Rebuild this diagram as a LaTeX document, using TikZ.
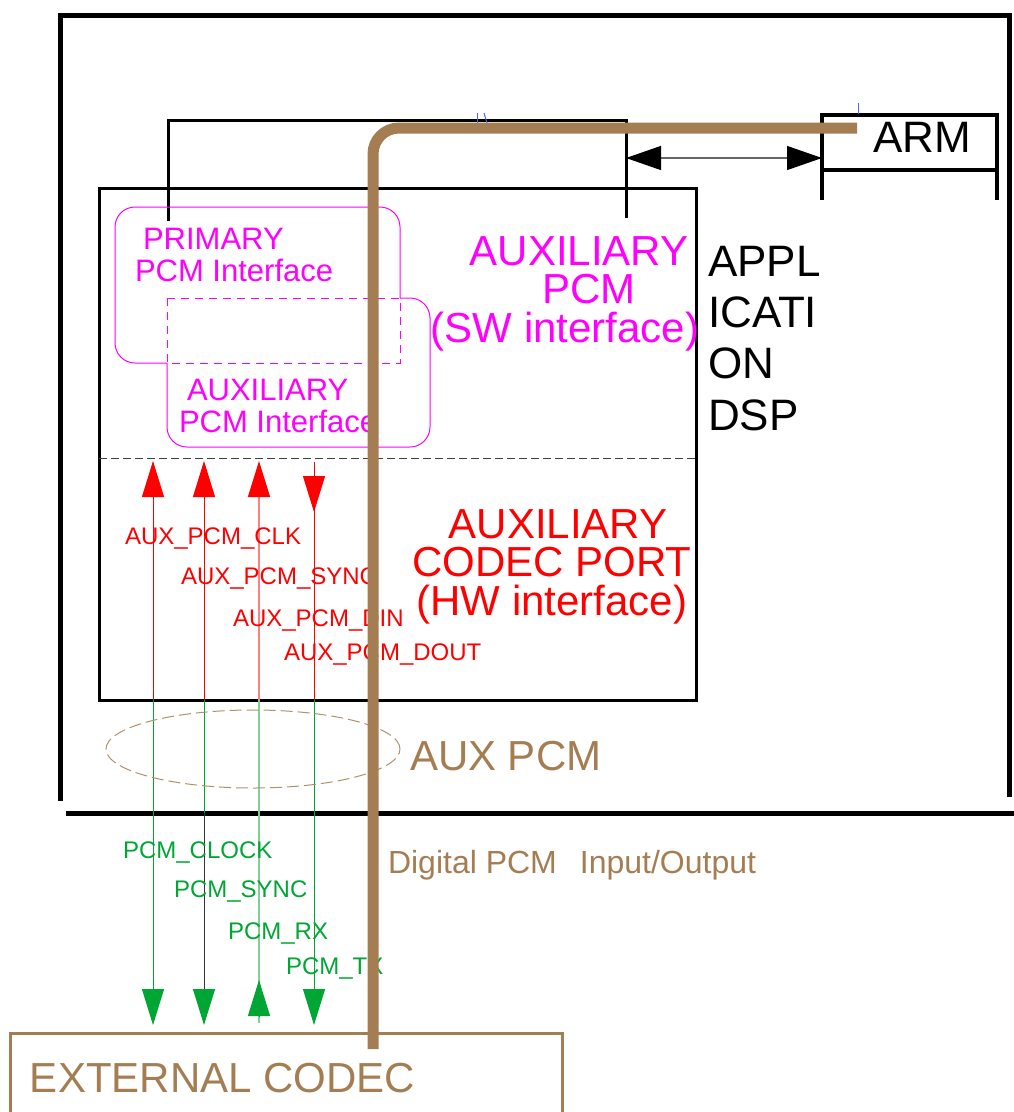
\documentclass[tikz,border=0pt]{standalone}
\usepackage{fontspec}
\setmainfont{Liberation Sans}
\usepackage{xcolor}
\usepackage{tikz}
\usetikzlibrary{arrows.meta}
\definecolor{wirebrown}{HTML}{A57D52}
\definecolor{pcmmagenta}{HTML}{FF00FF}
\definecolor{sigred}{HTML}{FF0000}
\definecolor{sigredlight}{HTML}{FF8080}
\definecolor{siggreen}{HTML}{00A633}
\definecolor{siggreenlight}{HTML}{80D095}
\definecolor{splitgray}{HTML}{404040}
\definecolor{tickblue}{HTML}{5060FF}

\begin{document}
\begin{tikzpicture}[
  x=1pt,
  y=-1pt,
  every node/.style={
    inner sep=0pt,
    outer sep=0pt
  },
  frame/.style={
    draw=black,
    line width=5pt
  },
  bracket/.style={
    draw=black,
    line width=3pt
  },
  dspbox/.style={
    draw=black,
    line width=3pt,
    rectangle,
    anchor=north west,
    minimum width=597pt,
    minimum height=512pt
  },
  armbox/.style={
    draw=black,
    line width=3.5pt,
    rectangle,
    anchor=north west,
    minimum width=175pt,
    minimum height=55pt
  },
  codecbox/.style={
    draw=wirebrown,
    line width=3pt,
    rectangle,
    anchor=north west,
    minimum width=552pt,
    minimum height=110pt
  },
  wire/.style={
    draw=wirebrown,
    line width=11pt,
    rounded corners=26pt
  },
  ifbox/.style={
    draw=pcmmagenta,
    line width=1pt,
    rounded corners=20pt
  },
  ifdash/.style={
    draw=pcmmagenta,
    line width=1pt,
    dash pattern=on 8pt off 6pt
  },
  split/.style={
    draw=splitgray,
    line width=1pt,
    dash pattern=on 8pt off 4pt
  },
  auxring/.style={
    draw=wirebrown!85,
    line width=1pt,
    dash pattern=on 12pt off 5pt
  },
  redsig/.style={draw=sigred, line width=1pt},
  redsiglight/.style={draw=sigredlight, line width=1.5pt},
  greensig/.style={draw=siggreen, line width=1pt},
  greensiglight/.style={draw=siggreenlight, line width=1.5pt},
  darksig/.style={draw=black!80, line width=1pt},
  redtip/.style={-{Triangle[length=36pt,width=22pt,color=sigred]}},
  greentip/.style={-{Triangle[length=36pt,width=22pt,color=siggreen]}},
  biarrow/.style={
    draw=black!60,
    line width=1.2pt,
    {Triangle[length=35pt,width=24pt,color=black]}-{Triangle[length=35pt,width=24pt,color=black]}
  },
  tick/.style={draw=tickblue, line width=1pt},
  bigtext/.style={font=\fontsize{42}{38.5}\selectfont, align=center},
  dsptext/.style={font=\fontsize{44}{51.3}\selectfont, align=left},
  iftext/.style={font=\fontsize{31}{32}\selectfont, align=left, text=pcmmagenta},
  siglabel/.style={font=\fontsize{24}{24}\selectfont, anchor=base west}
]

\useasboundingbox (0,0) rectangle (1014,1112);

% Outer frame
\draw[frame] (58,15) -- (1010,15);
\draw[frame] (60,15) -- (60,801);
\draw[frame] (1009,13) -- (1009,797);
\draw[frame] (66,813) -- (1014,813);

% Application DSP block
\node[dspbox] (dsp) at (99,188) {};
\coordinate (splitl) at (99,458);
\coordinate (splitr) at (696,458);
\draw[split] (splitl) -- (splitr);

% ARM block
\node[armbox] (arm) at (822,115) {};
\coordinate (armlegl) at (822,200);
\coordinate (armlegr) at (997,200);
\draw[bracket, line width=3.5pt] (arm.south west) -- (armlegl);
\draw[bracket, line width=3.5pt] (arm.south east) -- (armlegr);
\node[font=\fontsize{44}{44}\selectfont, anchor=base] (armlabel) at (922,152) {ARM};

% Bracket over the interfaces
\coordinate (brkl) at (168,221);
\coordinate (brktl) at (168,120);
\coordinate (brktr) at (626,120);
\coordinate (brkr) at (626,218);
\draw[bracket] (brkl) -- (brktl) -- (brktr) -- (brkr);

% SW port <-> ARM
\coordinate (swport) at (626,158);
\coordinate (armport) at (822,158);
\draw[biarrow] (swport) -- (armport);

% Stray ticks
\draw[tick] (477,113) -- (477,123);
\draw[tick] (484,113) -- (487,123);
\draw[tick] (858,103) -- (858,114);

% Interface boxes
\draw[ifbox] (167,363) -- (115,363) -- (115,207) -- (400,207) -- (400,298);
\draw[ifbox] (400,298) -- (430,298) -- (430,447) -- (167,447) -- (167,363);
\draw[ifdash] (167,298) rectangle (400,363);
\node[iftext, anchor=base west] (primtext) at (135,281) {\hspace*{8pt}PRIMARY\\PCM Interface};
\node[iftext, anchor=base west] (auxtext) at (179,432) {\hspace*{8pt}AUXILIARY\\PCM Interface};

% Block titles
\node[bigtext, text=pcmmagenta, anchor=base] (swtitle) at (579,342) {AUXILIARY\\\hspace*{20pt}PCM\\(SW interface)\hspace*{28pt}};
\node[bigtext, text=sigred, anchor=base] (hwtitle) at (552,615) {\hspace*{12pt}AUXILIARY\\CODEC PORT\\(HW interface)};
\node[dsptext, anchor=base west] (dsplabel) at (708,430) {APPL\\ICATI\\ON\\DSP};

% Signal lines
\coordinate (clktop) at (153,461);
\coordinate (clkmid) at (153,700);
\coordinate (clkbot) at (153,1025);
\coordinate (synctop) at (204,461);
\coordinate (syncmid) at (204,700);
\coordinate (syncframe) at (204,813);
\coordinate (syncbot) at (204,1025);
\coordinate (dintop) at (259,461);
\coordinate (dinmid) at (259,700);
\coordinate (dinbot) at (259,1023);
\coordinate (dinbase) at (259,1016);
\coordinate (dintip) at (259,980);
\coordinate (douttop) at (314,462);
\coordinate (doutbase) at (314,476);
\coordinate (douttip) at (314,512);
\coordinate (doutmid) at (314,700);
\coordinate (doutbot) at (314,1025);

\draw[redsig, redtip] (clkmid) -- (clktop);
\draw[greensig, greentip] (clkmid) -- (clkbot);

\draw[redsig, redtip] (syncmid) -- (synctop);
\draw[greensig] (syncmid) -- (syncframe);
\draw[darksig, greentip] (syncframe) -- (syncbot);

\draw[redsiglight, redtip] (dinmid) -- (dintop);
\draw[greensiglight] (dinmid) -- (dinbot);
\draw[greensig, greentip] (dinbase) -- (dintip);

\draw[redsig] (douttop) -- (doutmid);
\draw[redsig, redtip] (doutbase) -- (douttip);
\draw[greensig, greentip] (doutmid) -- (doutbot);

% Signal names
\node[siglabel, text=sigred] (clklabel) at (125,544) {AUX\_PCM\_CLK};
\node[siglabel, text=sigred] (synclabel) at (181,584) {AUX\_PCM\_SYNC};
\node[siglabel, text=sigred] (dinlabel) at (233,626) {AUX\_PCM\_DIN};
\node[siglabel, text=sigred] (doutlabel) at (284,660) {AUX\_PCM\_DOUT};
\node[siglabel, text=siggreen] (pclklabel) at (123,858) {PCM\_CLOCK};
\node[siglabel, text=siggreen] (psynclabel) at (174,897) {PCM\_SYNC};
\node[siglabel, text=siggreen] (prxlabel) at (228,939) {PCM\_RX};
\node[siglabel, text=siggreen] (ptxlabel) at (286,974) {PCM\_TX};

% AUX PCM bundle
\draw[auxring] (253,749) ellipse [x radius=147pt, y radius=39pt];
\node[font=\fontsize{42}{42}\selectfont, text=wirebrown, anchor=base west] (auxpcm) at (410,770) {AUX PCM};

% External codec
\node[codecbox] (codec) at (10,1033) {};
\node[font=\fontsize{42}{42}\selectfont, text=wirebrown, anchor=base west] (codectext) at (30,1092) {EXTERNAL CODEC};

% Digital PCM wire
\coordinate (armend) at (857,128);
\coordinate (wirebot) at (373,1049);
\draw[wire] (armend) -| (wirebot);
\node[font=\fontsize{32}{32}\selectfont, text=wirebrown, anchor=base west] (wirelabel) at (388,873) {Digital PCM\hspace{23pt}Input/Output};

\end{tikzpicture}
\end{document}
